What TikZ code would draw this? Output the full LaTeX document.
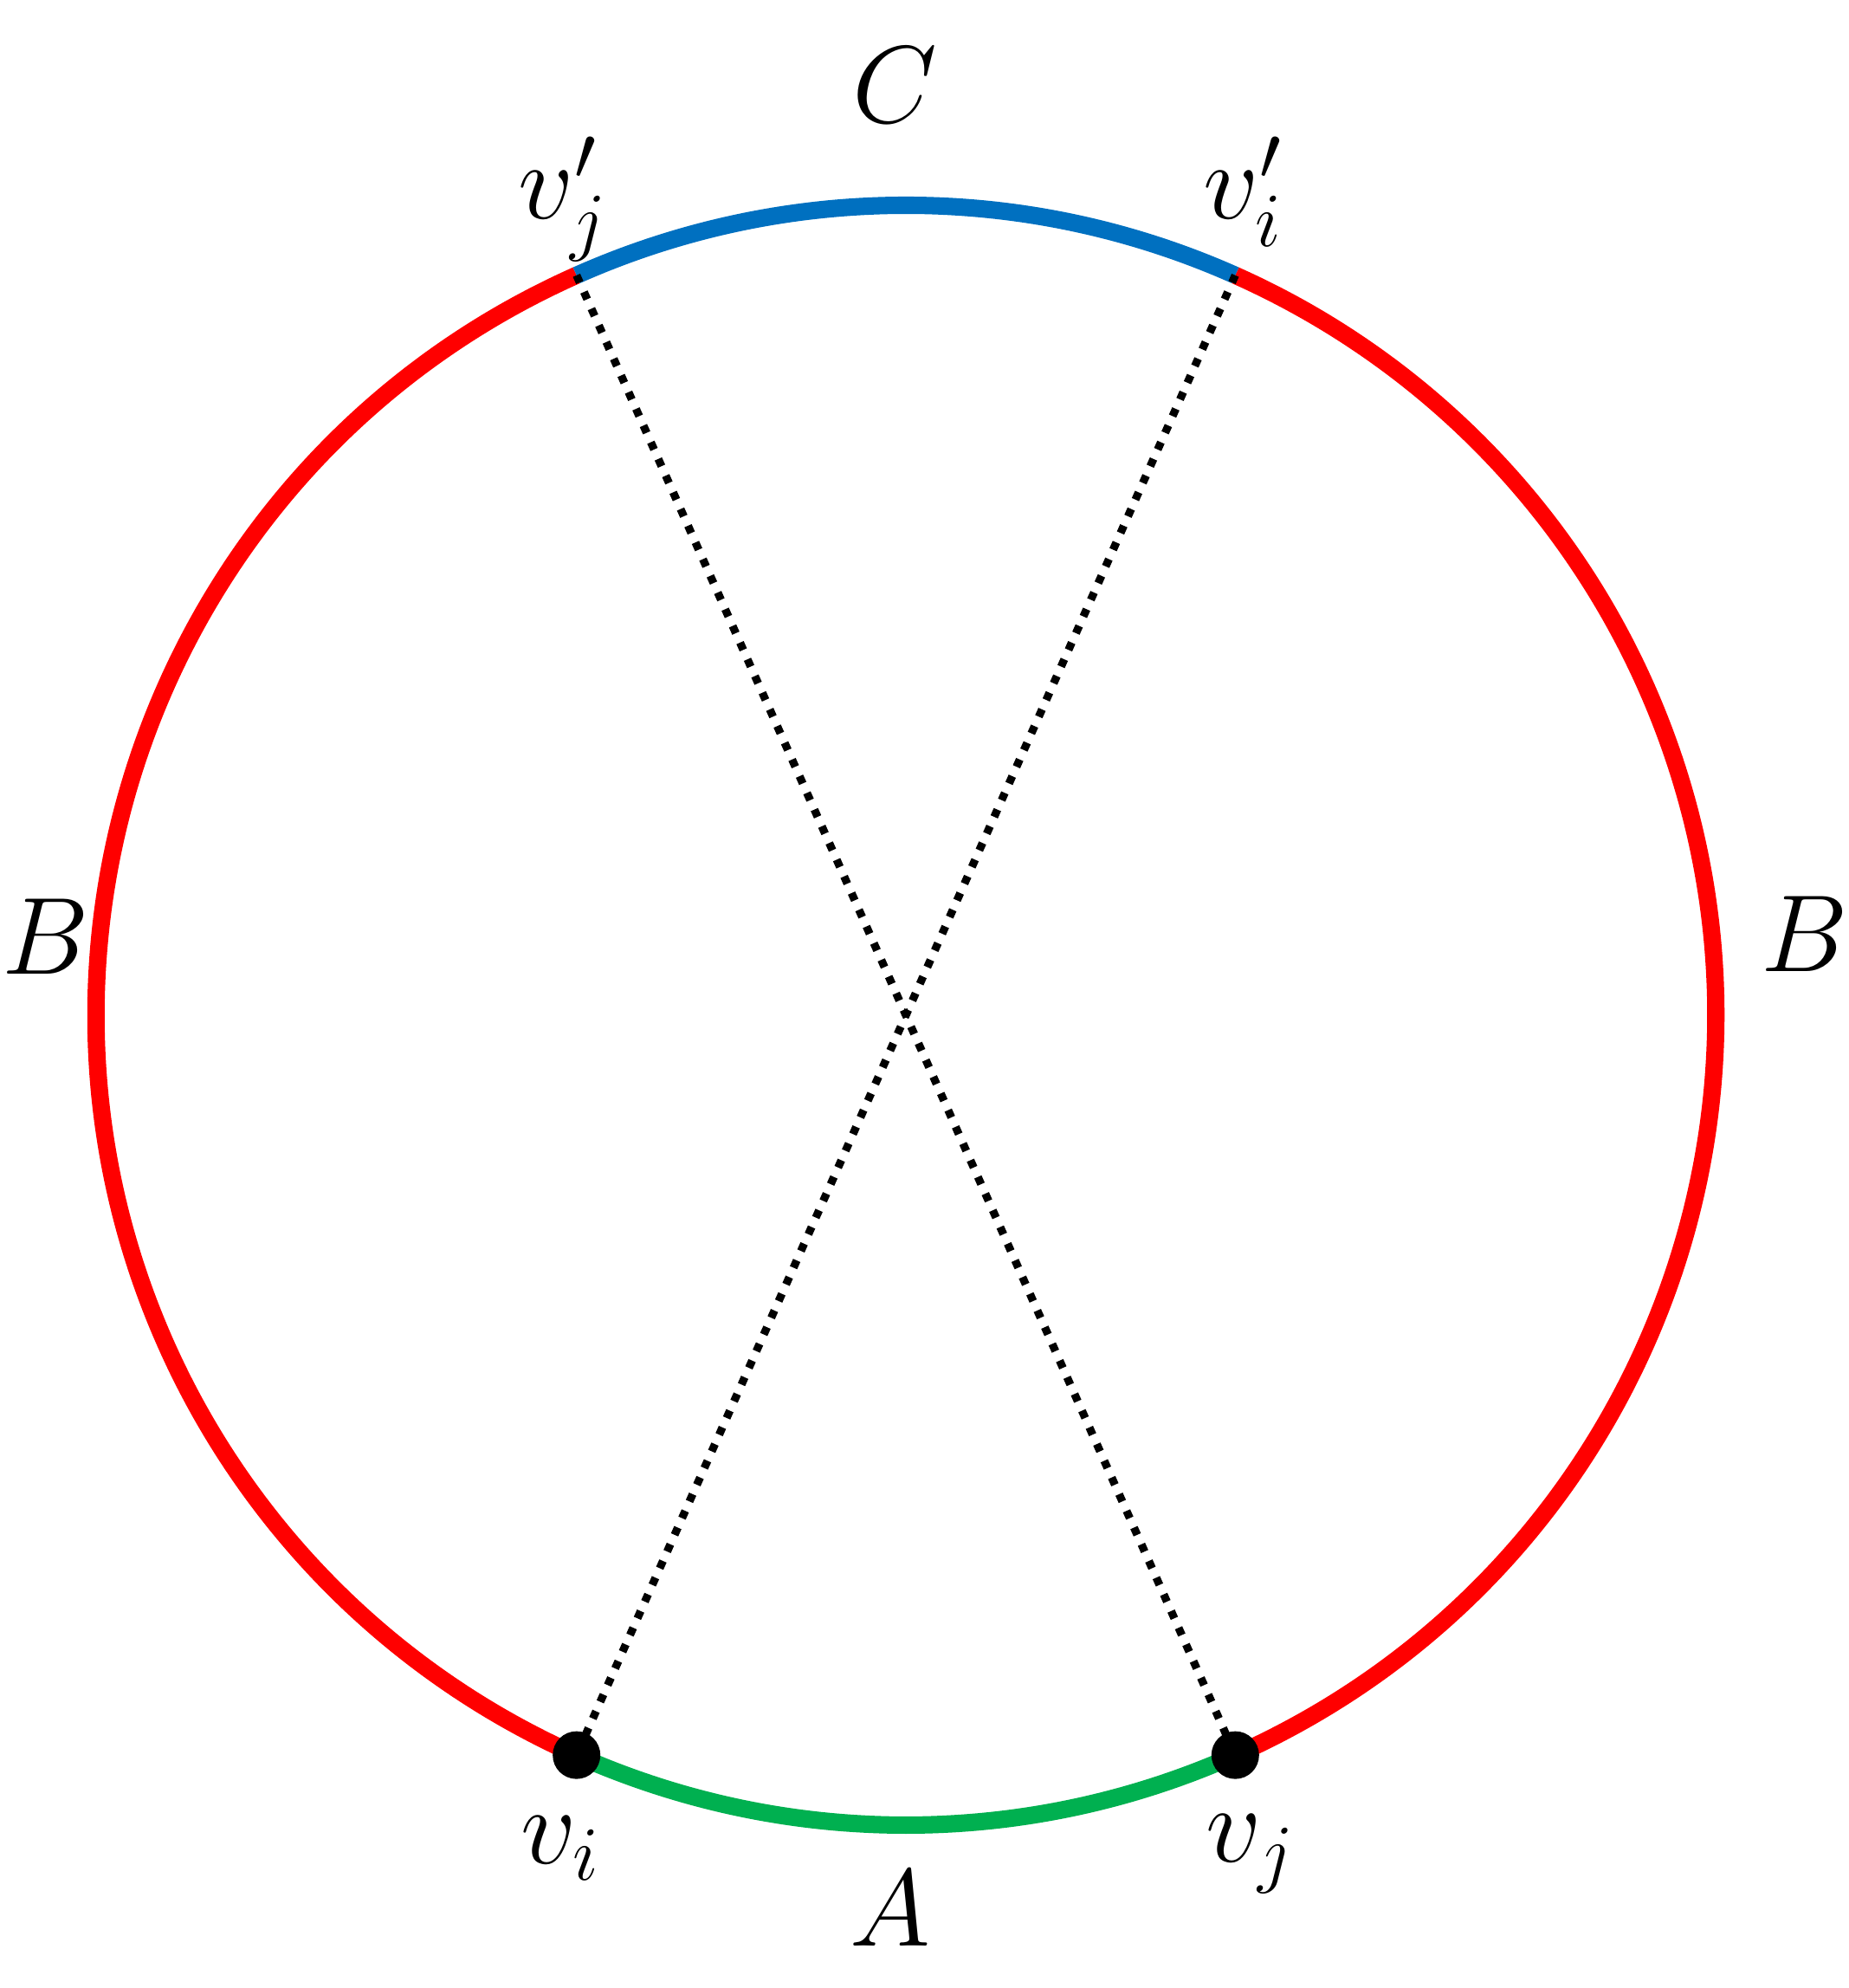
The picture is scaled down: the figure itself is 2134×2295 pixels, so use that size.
\documentclass[tikz,border=0pt]{standalone}
\usepackage{fix-cm}
\definecolor{myred}{RGB}{255,0,0}
\definecolor{myblue}{RGB}{0,112,192}
\definecolor{mygreen}{RGB}{0,176,80}
\tikzset{
  arcline/.style={line width=5.7pt, line cap=butt},
  dotline/.style={line width=2.6pt, line cap=butt, dash pattern=on 2.6pt off 3.4pt, black},
  vdot/.style={circle, fill=black, inner sep=0pt, minimum size=0.55cm},
  lab/.style={inner sep=0pt, font=\fontsize{36}{43}\selectfont}
}
\begin{document}
\begin{tikzpicture}[x=0.01cm, y=0.01cm]
\useasboundingbox (0,0) rectangle (2134,2295);
\coordinate (O) at (1046,1123);
\path (O) ++(246:935) coordinate (vi);
\path (O) ++(294:935) coordinate (vj);
\path (O) ++(66:935) coordinate (vip);
\path (O) ++(114:935) coordinate (vjp);
% arcs
\draw[arcline, myred] (vjp) arc[start angle=114, end angle=246, radius=935];
\draw[arcline, myred] (vj) arc[start angle=-66, end angle=66, radius=935];
\draw[arcline, myblue] (vip) arc[start angle=66, end angle=114, radius=935];
\draw[arcline, mygreen] (vi) arc[start angle=246, end angle=294, radius=935];
% dotted diameters
\draw[dotline] (vjp) -- (vj);
\draw[dotline] (vip) -- (vi);
% dots
\node[vdot] (dvi) at (vi) {};
\node[vdot] (dvj) at (vj) {};
% labels
\node[lab, anchor=base] (lC) at (1033,2153) {$C$};
\node[lab, anchor=base] (lA) at (1028,48) {$A$};
\node[lab, anchor=base west] (lBl) at (2,1170) {$B$};
\node[lab, anchor=base west] (lBr) at (2033,1173) {$B$};
\node[lab, anchor=base west] (lvjp) at (598,2042) {$v'_j$};
\node[lab, anchor=base west] (lvip) at (1389,2042) {$v'_i$};
\node[lab, anchor=base west] (lvi) at (601,143) {$v_i$};
\node[lab, anchor=base west] (lvj) at (1392,145) {$v_j$};
\end{tikzpicture}
\end{document}
